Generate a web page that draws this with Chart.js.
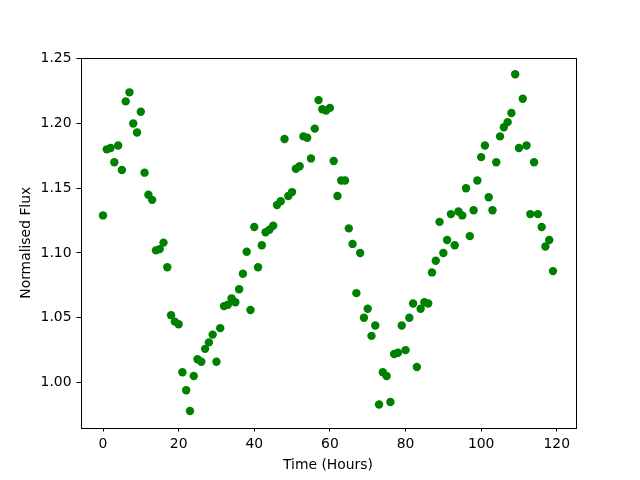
<!DOCTYPE html>
<html>
<head>
<meta charset="utf-8">
<script src="https://cdn.jsdelivr.net/npm/chart.js@4/dist/chart.umd.min.js"></script>
<style>
  body { margin: 0; background: #fff; }
  #wrap { width: 640px; height: 480px; }
</style>
</head>
<body>
<div id="wrap"><canvas id="fluxChart" width="640" height="480"></canvas></div>
<script>
// hours 0..119, one reading per hour
const hours = [];
for (let h = 0; h < 120; h++) hours.push(h);

const flux = [
  1.129, 1.180, 1.181, 1.170, 1.183, 1.164, 1.217, 1.224, 1.200, 1.193,
  1.209, 1.162, 1.145, 1.141, 1.102, 1.103, 1.108, 1.089, 1.052, 1.047,
  1.045, 1.008, 0.994, 0.978, 1.005, 1.018, 1.016, 1.026, 1.031, 1.037,
  1.016, 1.042, 1.059, 1.060, 1.065, 1.062, 1.072, 1.084, 1.101, 1.056,
  1.120, 1.089, 1.106, 1.116, 1.118, 1.121, 1.137, 1.140, 1.188, 1.144,
  1.147, 1.165, 1.167, 1.190, 1.189, 1.173, 1.196, 1.218, 1.211, 1.210,
  1.212, 1.171, 1.144, 1.156, 1.156, 1.119, 1.107, 1.069, 1.100, 1.050,
  1.057, 1.036, 1.044, 0.983, 1.008, 1.005, 0.985, 1.022, 1.023, 1.044,
  1.025, 1.050, 1.061, 1.012, 1.057, 1.062, 1.061, 1.085, 1.094, 1.124,
  1.100, 1.110, 1.130, 1.106, 1.132, 1.129, 1.150, 1.113, 1.133, 1.156,
  1.174, 1.183, 1.143, 1.133, 1.170, 1.190, 1.197, 1.201, 1.208, 1.238,
  1.181, 1.219, 1.183, 1.130, 1.170, 1.130, 1.120, 1.105, 1.110, 1.086
];

const xTicks = [0, 20, 40, 60, 80, 100, 120];
const yTicks = [1.00, 1.05, 1.10, 1.15, 1.20, 1.25];

const points = hours.map((h, i) => ({ x: h, y: flux[i] }));

const font = { family: 'DejaVu Sans', size: 13.9 };

// matplotlib style box round the plot area
const frame = {
  id: 'frame',
  afterDraw(chart) {
    const a = chart.chartArea;
    const ctx = chart.ctx;
    ctx.save();
    ctx.strokeStyle = '#000';
    ctx.lineWidth = 1;
    ctx.strokeRect(Math.round(a.left) + 0.5, Math.round(a.top) + 0.5,
      Math.round(a.right - a.left), Math.round(a.bottom - a.top));
    ctx.restore();
  }
};

const ctx = document.getElementById('fluxChart').getContext('2d');
new Chart(ctx, {
  type: 'scatter',
  data: {
    datasets: [{
      data: points,
      backgroundColor: '#008000',
      borderColor: '#008000',
      borderWidth: 0,
      pointRadius: 4.2,
      pointHoverRadius: 4.2
    }]
  },
  options: {
    responsive: false,
    animation: false,
    devicePixelRatio: 1,
    layout: { padding: { top: 58, right: 64.5, left: 0, bottom: 0 } },
    plugins: {
      legend: { display: false },
      tooltip: { enabled: false }
    },
    scales: {
      x: {
        type: 'linear',
        min: -5.95,
        max: 124.95,
        afterBuildTicks: (s) => { s.ticks = xTicks.map(v => ({ value: v })); },
        afterFit: (s) => { s.height = 52.5; },
        grid: { display: true, drawOnChartArea: false, drawTicks: true, tickLength: 4, color: '#000' },
        border: { display: false },
        ticks: { color: '#000', font: font, padding: 5, maxRotation: 0 },
        title: { display: true, text: 'Time (Hours)', color: '#000', font: font, padding: { top: 4, bottom: 6 } }
      },
      y: {
        min: 0.9653,
        max: 1.2505,
        afterBuildTicks: (s) => { s.ticks = yTicks.map(v => ({ value: v })); },
        afterFit: (s) => { s.width = 80.5; },
        grid: { display: true, drawOnChartArea: false, drawTicks: true, tickLength: 4, color: '#000' },
        border: { display: false },
        ticks: { color: '#000', font: font, padding: 5, callback: (v) => v.toFixed(2) },
        title: { display: true, text: 'Normalised Flux', color: '#000', font: font, padding: { top: 18, bottom: 4 } }
      }
    }
  },
  plugins: [frame]
});
</script>
</body>
</html>
